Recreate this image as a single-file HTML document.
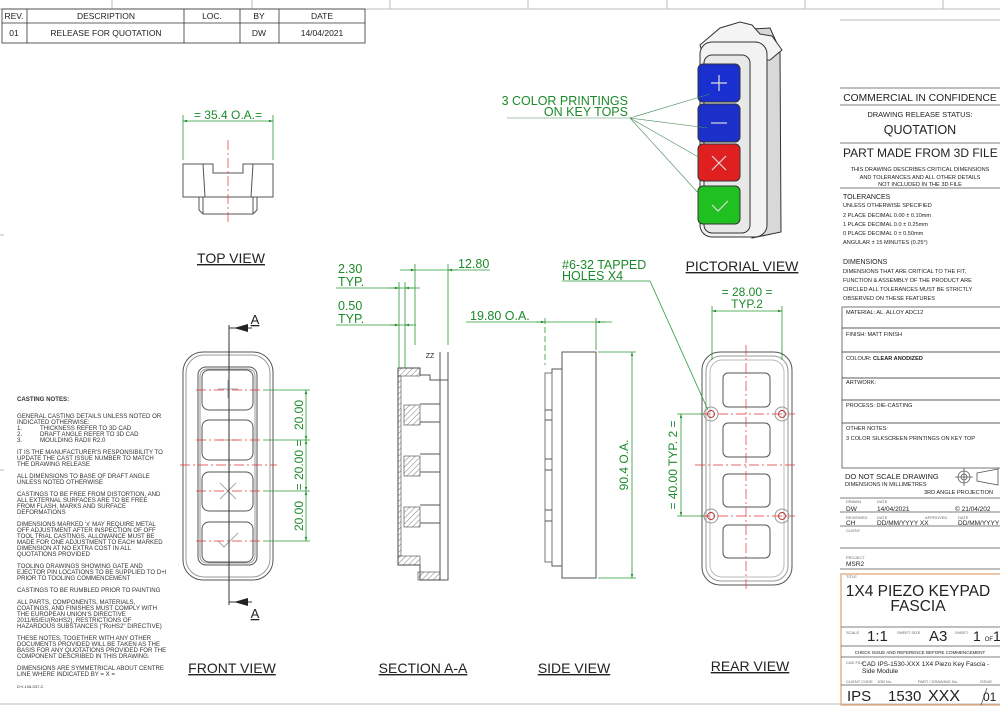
<!DOCTYPE html>
<html><head><meta charset="utf-8"><style>
html,body{margin:0;padding:0;background:#fff}
svg{display:block;font-family:"Liberation Sans",Arial,sans-serif}
.g{fill:#1c8a2a}
.gl{stroke:#2a9a35;stroke-width:0.8;fill:none}
.k{stroke:#555;stroke-width:1;fill:none}
.r{stroke:#e03030;stroke-width:0.7;fill:none;stroke-dasharray:10 3 2 3}
.t{fill:#222}
.n{font-size:6.1px;fill:#333}
.u{text-decoration:underline}
</style></head><body>
<svg width="1000" height="710" viewBox="0 0 1000 710" xmlns="http://www.w3.org/2000/svg">
<defs>
<marker id="a" viewBox="0 0 10 10" refX="10" refY="5" markerWidth="7" markerHeight="5" orient="auto-start-reverse"><path d="M0,2 L10,5 L0,8z" fill="#1c8a2a"/></marker>
<pattern id="h" width="4" height="4" patternUnits="userSpaceOnUse" patternTransform="rotate(45)"><line x1="0" y1="0" x2="0" y2="4" stroke="#444" stroke-width="0.7"/></pattern>
</defs>
<g stroke="#bbb" stroke-width="1">
<line x1="0" y1="9" x2="1000" y2="9"/>
<line x1="112" y1="0" x2="112" y2="9"/><line x1="252" y1="0" x2="252" y2="9"/><line x1="390" y1="0" x2="390" y2="9"/><line x1="528" y1="0" x2="528" y2="9"/><line x1="667" y1="0" x2="667" y2="9"/><line x1="805" y1="0" x2="805" y2="9"/><line x1="943" y1="0" x2="943" y2="9"/>
<line x1="0" y1="704" x2="1000" y2="704"/>
<line x1="840" y1="20" x2="1000" y2="20"/>
<line x1="0" y1="235" x2="4" y2="235"/><line x1="0" y1="470" x2="4" y2="470"/>
</g>
<g stroke="#333" stroke-width="0.8" fill="none">
<rect x="2" y="9" width="363" height="34"/>
<line x1="2" y1="23" x2="365" y2="23"/>
<line x1="27" y1="9" x2="27" y2="43"/><line x1="184" y1="9" x2="184" y2="43"/><line x1="240" y1="9" x2="240" y2="43"/><line x1="279" y1="9" x2="279" y2="43"/>
</g>
<g font-size="8.5" class="t" text-anchor="middle">
<text x="14" y="19">REV.</text><text x="106" y="19">DESCRIPTION</text><text x="212" y="19">LOC.</text><text x="259" y="19">BY</text><text x="322" y="19">DATE</text>
<text x="14" y="36">01</text><text x="106" y="36">RELEASE FOR QUOTATION</text><text x="259" y="36">DW</text><text x="322" y="36">14/04/2021</text>
</g>

<!-- TOP VIEW -->
<g class="k">
<path d="M183,164 L213,164 L213,173 L243,173 L243,164 L273,164 L273,197 L183,197 Z"/>
<line x1="203" y1="164" x2="205" y2="197"/><line x1="253" y1="164" x2="251" y2="197"/>
<path d="M199,197 L199,210 L203,214 L253,214 L257,210 L257,197"/>
<line x1="203" y1="197" x2="203" y2="214"/><line x1="253" y1="197" x2="253" y2="214"/>
</g>
<line class="r" x1="228" y1="140" x2="228" y2="222"/>
<line class="gl" x1="183" y1="160" x2="183" y2="115"/><line class="gl" x1="273" y1="160" x2="273" y2="115"/>
<line class="gl" x1="183" y1="121" x2="273" y2="121" marker-start="url(#a)" marker-end="url(#a)"/>
<text x="228" y="119" font-size="12" class="g" text-anchor="middle">= 35.4 O.A.=</text>
<text x="231" y="263" font-size="14" class="t u" text-anchor="middle">TOP VIEW</text>

<!-- FRONT VIEW -->
<g class="k">
<rect x="183" y="352" width="90" height="228" rx="20"/>
<rect x="186" y="355" width="84" height="222" rx="18" stroke="#999"/>
<rect x="198" y="367" width="59" height="198" rx="8"/>
<rect x="200" y="369" width="55" height="194" rx="7" stroke="#999"/>
<rect x="202" y="370" width="51" height="40" rx="7"/>
<rect x="202" y="420" width="51" height="40" rx="7"/>
<rect x="202" y="472" width="51" height="39" rx="7"/>
<rect x="202" y="522" width="51" height="40" rx="7"/>
<path d="M228,380 V398 M218,389 H238" stroke="#aaa"/>
<path d="M218,440 H238" stroke="#aaa"/>
<path d="M220,483 L236,499 M236,483 L220,499" stroke="#aaa"/>
<path d="M218,541 L224,547 L238,533" stroke="#aaa"/>
<line x1="229" y1="325" x2="229" y2="605" stroke="#333"/>
</g>
<path d="M229,328 H252 M229,602 H252" stroke="#333"/>
<path d="M248,324 L234,328 L248,332Z M248,598 L234,602 L248,606Z" fill="#222"/>
<text x="255" y="324" font-size="13" class="t u" text-anchor="middle">A</text>
<text x="255" y="618" font-size="13" class="t u" text-anchor="middle">A</text>
<g class="r"><line x1="196" y1="390" x2="260" y2="390"/><line x1="196" y1="440" x2="260" y2="440"/><line x1="180" y1="465" x2="277" y2="465"/><line x1="196" y1="491" x2="260" y2="491"/><line x1="196" y1="541" x2="260" y2="541"/></g>
<g class="gl"><line x1="263" y1="390" x2="310" y2="390"/><line x1="263" y1="440" x2="310" y2="440"/><line x1="263" y1="491" x2="310" y2="491"/><line x1="263" y1="541" x2="310" y2="541"/>
<line x1="306" y1="390" x2="306" y2="440" marker-start="url(#a)" marker-end="url(#a)"/><line x1="306" y1="440" x2="306" y2="491" marker-start="url(#a)" marker-end="url(#a)"/><line x1="306" y1="491" x2="306" y2="541" marker-start="url(#a)" marker-end="url(#a)"/></g>
<g font-size="12" class="g" text-anchor="middle">
<text transform="translate(303,415) rotate(-90)">20.00</text>
<text transform="translate(303,465) rotate(-90)">= 20.00 =</text>
<text transform="translate(303,516) rotate(-90)">20.00</text>
</g>
<text x="232" y="673" font-size="14" class="t u" text-anchor="middle">FRONT VIEW</text>

<!-- SECTION A-A -->
<g class="k" stroke-width="0.9">
<path d="M398,368 L420,368 L420,375 L430,375 L430,380 L448,380 L448,580 L420,580 L420,565 L398,565 Z"/>
<line x1="440" y1="352" x2="440" y2="580"/><line x1="448" y1="352" x2="448" y2="380"/>
<line x1="420" y1="404" x2="440" y2="404"/><line x1="420" y1="422" x2="440" y2="422"/>
<line x1="420" y1="454" x2="440" y2="454"/><line x1="420" y1="472" x2="440" y2="472"/>
<line x1="420" y1="505" x2="440" y2="505"/><line x1="420" y1="523" x2="440" y2="523"/>
</g>
<g fill="url(#h)" stroke="#444" stroke-width="0.6">
<rect x="398" y="368" width="22" height="8"/>
<rect x="404" y="405" width="16" height="20"/>
<rect x="404" y="456" width="16" height="20"/>
<rect x="404" y="507" width="16" height="20"/>
<rect x="398" y="556" width="22" height="9"/>
<rect x="418" y="572" width="22" height="8"/>
<rect x="398" y="376" width="3" height="180"/>
</g>
<text x="430" y="358" font-size="7" class="t" text-anchor="middle">ZZ</text>
<g class="gl">
<line x1="399" y1="282" x2="399" y2="368"/><line x1="405" y1="282" x2="405" y2="368"/><line x1="415" y1="264" x2="415" y2="345"/><line x1="448" y1="264" x2="448" y2="345"/>
<line x1="336" y1="288" x2="420" y2="288"/><line x1="336" y1="325" x2="416" y2="325"/>
<line x1="400" y1="270" x2="490" y2="270"/>
<line x1="410" y1="270" x2="415" y2="270" marker-end="url(#a)"/><line x1="458" y1="270" x2="448" y2="270" marker-end="url(#a)"/>
<line x1="390" y1="288" x2="399" y2="288" marker-end="url(#a)"/><line x1="415" y1="288" x2="405" y2="288" marker-end="url(#a)"/>
<line x1="390" y1="325" x2="399" y2="325" marker-end="url(#a)"/><line x1="412" y1="325" x2="405" y2="325" marker-end="url(#a)"/>
</g>
<g font-size="12.5" class="g">
<text x="338" y="273">2.30</text><text x="338" y="286">TYP.</text>
<text x="338" y="310">0.50</text><text x="338" y="323">TYP.</text>
<text x="458" y="268">12.80</text>
<text x="470" y="320">19.80 O.A.</text>
</g>
<text x="423" y="673" font-size="14" class="t u" text-anchor="middle">SECTION A-A</text>

<!-- SIDE VIEW -->
<g class="k" stroke-width="0.9">
<path d="M562,352 L596,352 L596,578 L562,578 Z"/>
<path d="M552,369 L562,369 L562,566 L552,566 Z"/>
<path d="M545,373 L552,373 L552,562 L545,562 Z" stroke="#777"/>
<line x1="545" y1="410" x2="552" y2="410"/><line x1="545" y1="420" x2="552" y2="420"/>
<line x1="545" y1="459" x2="552" y2="459"/><line x1="545" y1="470" x2="552" y2="470"/>
<line x1="545" y1="510" x2="552" y2="510"/><line x1="545" y1="521" x2="552" y2="521"/>
</g>
<g class="gl">
<line x1="466" y1="322" x2="612" y2="322"/>
<line x1="536" y1="322" x2="545" y2="322" marker-end="url(#a)"/><line x1="606" y1="322" x2="596" y2="322" marker-end="url(#a)"/>
<line x1="545" y1="318" x2="545" y2="365" stroke-dasharray="6 3"/><line x1="596" y1="318" x2="596" y2="350"/>
<line x1="598" y1="352" x2="636" y2="352"/><line x1="598" y1="578" x2="636" y2="578"/>
<line x1="632" y1="352" x2="632" y2="578" marker-start="url(#a)" marker-end="url(#a)"/>
</g>
<text transform="translate(628,465) rotate(-90)" font-size="12" class="g" text-anchor="middle">90.4 O.A.</text>
<text x="574" y="673" font-size="14" class="t u" text-anchor="middle">SIDE VIEW</text>

<!-- REAR VIEW -->
<g class="k">
<rect x="702" y="352" width="90" height="233" rx="18"/>
<rect x="706" y="356" width="82" height="225" rx="15" stroke="#999"/>
<rect x="710" y="360" width="74" height="217" rx="12" stroke="#bbb"/>
<rect x="723" y="373" width="47" height="34" rx="5"/>
<rect x="723" y="423" width="47" height="34" rx="5"/>
<rect x="723" y="474" width="47" height="33" rx="5"/>
<rect x="723" y="525" width="47" height="33" rx="5"/>
<circle cx="711" cy="414" r="7" stroke="#999"/><circle cx="782" cy="414" r="7" stroke="#999"/>
<circle cx="711" cy="516" r="7" stroke="#999"/><circle cx="782" cy="516" r="7" stroke="#999"/>
</g>
<g stroke="#b03030" stroke-width="0.9" fill="none">
<circle cx="711" cy="414" r="3.5"/><circle cx="782" cy="414" r="3.5"/><circle cx="711" cy="516" r="3.5"/><circle cx="782" cy="516" r="3.5"/>
</g>
<g class="r"><line x1="746" y1="345" x2="746" y2="592"/><line x1="695" y1="465" x2="798" y2="465"/><line x1="700" y1="414" x2="795" y2="414"/><line x1="700" y1="516" x2="795" y2="516"/></g>
<g class="gl">
<line x1="712" y1="306" x2="712" y2="360"/><line x1="782" y1="306" x2="782" y2="360"/>
<line x1="712" y1="311" x2="782" y2="311" marker-start="url(#a)" marker-end="url(#a)"/>
<line x1="677" y1="414" x2="704" y2="414"/><line x1="677" y1="516" x2="704" y2="516"/>
<line x1="681" y1="414" x2="681" y2="516" marker-start="url(#a)" marker-end="url(#a)"/>
<polyline points="562,281 650,281 708,410"/>
</g>
<text x="747" y="296" font-size="12" class="g" text-anchor="middle">= 28.00 =</text>
<text x="747" y="308" font-size="12" class="g" text-anchor="middle">TYP.2</text>
<text transform="translate(677,465) rotate(-90)" font-size="12" class="g" text-anchor="middle">= 40.00 TYP. 2 =</text>
<text x="562" y="269" font-size="12.5" class="g">#6-32 TAPPED</text>
<text x="562" y="280" font-size="12.5" class="g">HOLES X4</text>
<text x="750" y="671" font-size="14" class="t u" text-anchor="middle">REAR VIEW</text>

<!-- PICTORIAL -->
<g stroke="#333" stroke-width="1">
<path d="M735,30 L770,28 L780,50 L781,232 L752,238 Z" fill="#d8d8d8"/>
<path d="M700,45 L720,28 L740,22 L752,25 L760,34 L772,36 L782,50 L770,60 L705,62 Z" fill="#f4f4f4"/>
<rect x="700" y="42" width="67" height="195" rx="12" fill="#f2f2f2"/>
<rect x="704" y="55" width="46" height="178" rx="8" fill="#e8e8e8"/>
<rect x="698" y="64" width="42" height="38" rx="5" fill="#1a2fd0"/>
<rect x="698" y="104" width="42" height="38" rx="5" fill="#1a30c8"/>
<rect x="698" y="144" width="42" height="37" rx="5" fill="#e02020"/>
<rect x="698" y="186" width="42" height="38" rx="5" fill="#20c020"/>
</g>
<g stroke="#ddd" stroke-width="1.2" fill="none">
<path d="M719,75 V91 M711,83 H727"/><path d="M711,123 H727"/><path d="M712,156 L726,170 M726,156 L712,170"/><path d="M712,205 L718,211 L728,201"/>
</g>
<g stroke="#4a8a5a" stroke-width="0.6" fill="none">
<line x1="507" y1="118" x2="630" y2="118"/>
<line x1="630" y1="118" x2="710" y2="94"/><line x1="630" y1="118" x2="708" y2="128"/><line x1="630" y1="118" x2="700" y2="158"/><line x1="630" y1="118" x2="700" y2="195"/>
</g>
<text x="628" y="105" font-size="12.5" class="g" text-anchor="end">3 COLOR PRINTINGS</text>
<text x="628" y="116" font-size="12.5" class="g" text-anchor="end">ON KEY TOPS</text>
<text x="742" y="271" font-size="14" class="t u" text-anchor="middle">PICTORIAL VIEW</text>

<!-- CASTING NOTES -->
<g class="n">
<text x="17" y="401" font-weight="bold">CASTING NOTES:</text>
<text x="17" y="418">GENERAL CASTING DETAILS UNLESS NOTED OR</text>
<text x="17" y="424">INDICATED OTHERWISE:</text>
<text x="17" y="430">1.</text><text x="40" y="430">THICKNESS REFER TO 3D CAD</text>
<text x="17" y="436">2.</text><text x="40" y="436">DRAFT ANGLE REFER TO 3D CAD</text>
<text x="17" y="442">3.</text><text x="40" y="442">MOULDING RADII R2.0</text>
<text x="17" y="454">IT IS THE MANUFACTURER'S RESPONSIBILITY TO</text>
<text x="17" y="460">UPDATE THE CAST ISSUE NUMBER TO MATCH</text>
<text x="17" y="466">THE DRAWING RELEASE</text>
<text x="17" y="478">ALL DIMENSIONS TO BASE OF DRAFT ANGLE</text>
<text x="17" y="484">UNLESS NOTED OTHERWISE</text>
<text x="17" y="496">CASTINGS TO BE FREE FROM DISTORTION, AND</text>
<text x="17" y="502">ALL EXTERNAL SURFACES ARE TO BE FREE</text>
<text x="17" y="508">FROM FLASH, MARKS AND SURFACE</text>
<text x="17" y="514">DEFORMATIONS</text>
<text x="17" y="526">DIMENSIONS MARKED 'x' MAY REQUIRE METAL</text>
<text x="17" y="532">OFF ADJUSTMENT AFTER INSPECTION OF OFF</text>
<text x="17" y="538">TOOL TRIAL CASTINGS.  ALLOWANCE MUST BE</text>
<text x="17" y="544">MADE FOR ONE ADJUSTMENT TO EACH MARKED</text>
<text x="17" y="550">DIMENSION AT NO EXTRA COST IN ALL</text>
<text x="17" y="556">QUOTATIONS PROVIDED</text>
<text x="17" y="568">TOOLING DRAWINGS SHOWING GATE AND</text>
<text x="17" y="574">EJECTOR PIN LOCATIONS TO BE SUPPLIED TO D+I</text>
<text x="17" y="580">PRIOR TO TOOLING COMMENCEMENT</text>
<text x="17" y="592">CASTINGS TO BE RUMBLED PRIOR TO PAINTING</text>
<text x="17" y="604">ALL PARTS, COMPONENTS, MATERIALS,</text>
<text x="17" y="610">COATINGS, AND FINISHES MUST COMPLY WITH</text>
<text x="17" y="616">THE EUROPEAN UNION'S DIRECTIVE</text>
<text x="17" y="622">2011/65/EU(RoHS2), RESTRICTIONS OF</text>
<text x="17" y="628">HAZARDOUS SUBSTANCES ("RoHS2" DIRECTIVE)</text>
<text x="17" y="640">THESE NOTES, TOGETHER WITH ANY OTHER</text>
<text x="17" y="646">DOCUMENTS PROVIDED WILL BE TAKEN AS THE</text>
<text x="17" y="652">BASIS FOR ANY QUOTATIONS PROVIDED FOR THE</text>
<text x="17" y="658">COMPONENT DESCRIBED IN THIS DRAWING.</text>
<text x="17" y="670">DIMENSIONS ARE SYMMETRICAL ABOUT CENTRE</text>
<text x="17" y="676">LINE WHERE INDICATED BY = X =</text>
<text x="17" y="688" font-size="4">D+I-106-037-C</text>
</g>

<!-- TITLE BLOCK -->
<g stroke="#555" stroke-width="0.8" fill="none">
<line x1="840" y1="88" x2="1000" y2="88"/>
<line x1="840" y1="105" x2="1000" y2="105"/>
<line x1="840" y1="143" x2="1000" y2="143"/>
<line x1="840" y1="188" x2="1000" y2="188"/>
<rect x="842" y="307" width="160" height="21"/>
<rect x="842" y="328" width="160" height="24"/>
<rect x="842" y="352" width="160" height="26"/>
<rect x="842" y="378" width="160" height="22"/>
<rect x="842" y="400" width="160" height="23"/>
<rect x="842" y="423" width="160" height="45"/>
<line x1="840" y1="498" x2="1000" y2="498"/>
<line x1="840" y1="512" x2="1000" y2="512"/>
<line x1="840" y1="526" x2="1000" y2="526"/>
<line x1="840" y1="548" x2="1000" y2="548"/>
<line x1="840" y1="569" x2="1000" y2="569"/>
<rect x="841" y="574" width="160" height="131" stroke="#e0a070" stroke-width="1.2"/>
<line x1="841" y1="627" x2="1000" y2="627"/>
<line x1="841" y1="646" x2="1000" y2="646"/>
<line x1="841" y1="657" x2="1000" y2="657"/>
<line x1="841" y1="685" x2="1000" y2="685"/>
<circle cx="964" cy="477" r="6"/><circle cx="964" cy="477" r="3"/><line x1="955" y1="477" x2="973" y2="477"/><line x1="964" y1="468" x2="964" y2="486"/>
<path d="M977,473 L998,469 L998,485 L977,481 Z"/>
<path d="M981,705 L987,688"/>
</g>
<g class="t">
<text x="920" y="101" font-size="10.3" text-anchor="middle">COMMERCIAL IN CONFIDENCE</text>
<text x="920" y="117" font-size="7.5" text-anchor="middle">DRAWING RELEASE STATUS:</text>
<text x="920" y="134" font-size="12.5" text-anchor="middle">QUOTATION</text>
<text x="843" y="157" font-size="12">PART MADE FROM 3D FILE</text>
<g font-size="5.6" text-anchor="middle"><text x="920" y="171">THIS DRAWING DESCRIBES CRITICAL DIMENSIONS</text><text x="920" y="179">AND TOLERANCES AND ALL OTHER DETAILS</text><text x="920" y="186">NOT INCLUDED IN THE 3D FILE</text></g>
<text x="843" y="199" font-size="7">TOLERANCES</text>
<g font-size="5.6"><text x="843" y="207">UNLESS OTHERWISE SPECIFIED</text>
<text x="843" y="217">2 PLACE DECIMAL 0.00 ± 0.10mm</text>
<text x="843" y="226">1 PLACE DECIMAL 0.0   ± 0.25mm</text>
<text x="843" y="235">0 PLACE DECIMAL 0      ± 0.50mm</text>
<text x="843" y="244">ANGULAR ± 15 MINUTES (0.25°)</text></g>
<text x="843" y="264" font-size="7">DIMENSIONS</text>
<g font-size="5.6"><text x="843" y="273">DIMENSIONS THAT ARE CRITICAL TO THE FIT,</text>
<text x="843" y="282">FUNCTION &amp; ASSEMBLY OF THE PRODUCT ARE</text>
<text x="843" y="291">CIRCLED  ALL TOLERANCES MUST BE STRICTLY</text>
<text x="843" y="300">OBSERVED ON THESE FEATURES</text>
<text x="846" y="314">MATERIAL: AL. ALLOY ADC12</text>
<text x="846" y="336">FINISH:    MATT FINISH</text>
<text x="846" y="360">COLOUR:  <tspan font-weight="bold">CLEAR ANODIZED</tspan></text>
<text x="846" y="384">ARTWORK:</text>
<text x="846" y="407">PROCESS:  DIE-CASTING</text>
<text x="846" y="430">OTHER NOTES:</text>
<text x="846" y="440">3 COLOR SILKSCREEN PRINTINGS ON KEY TOP</text></g>
<text x="845" y="479" font-size="7.5">DO NOT SCALE DRAWING</text>
<text x="845" y="486" font-size="5.6">DIMENSIONS IN MILLIMETRES</text>
<text x="924" y="494" font-size="5.6">3RD ANGLE PROJECTION</text>
<g font-size="4" fill="#666"><text x="846" y="503">DRAWN</text><text x="877" y="503">DATE</text><text x="846" y="519">REVIEWED</text><text x="877" y="519">DATE</text><text x="925" y="519">APPROVED</text><text x="958" y="519">DATE</text><text x="846" y="532">CLIENT</text><text x="846" y="559">PROJECT</text><text x="846" y="578">TITLE</text>
<text x="846" y="634">SCALE</text><text x="897" y="634">SHEET SIZE</text><text x="955" y="634">SHEET</text><text x="846" y="664">CAD FILE</text><text x="846" y="683">CLIENT CODE</text><text x="877" y="683">JOB No.</text><text x="918" y="683">PART / DRAWING No.</text><text x="980" y="683">ISSUE</text></g>
<g font-size="6.5"><text x="846" y="511">DW</text><text x="877" y="511">14/04/2021</text><text x="955" y="511">© 21/04/202</text><text x="846" y="525">CH</text><text x="877" y="525">DD/MM/YYYY  XX</text><text x="958" y="525">DD/MM/YYYY</text><text x="846" y="566">MSR2</text></g>
<text x="918" y="596" font-size="15.5" text-anchor="middle">1X4 PIEZO KEYPAD</text>
<text x="918" y="611" font-size="15.5" text-anchor="middle">FASCIA</text>
<text x="867" y="641" font-size="15">1:1</text><text x="929" y="641" font-size="15">A3</text><text x="973" y="641" font-size="14">1 <tspan font-size="6">OF</tspan>1</text>
<text x="920" y="654" font-size="4.5" text-anchor="middle">CHECK ISSUE AND REFERENCE BEFORE COMMENCEMENT</text>
<text x="862" y="666" font-size="6.5">CAD IPS-1530-XXX 1X4 Piezo Key Fascia -</text>
<text x="862" y="673" font-size="6.5">Side Module</text>
<text x="847" y="701" font-size="15">IPS</text><text x="888" y="701" font-size="15">1530</text><text x="928" y="701" font-size="16">XXX</text><text x="983" y="701" font-size="12">01</text>
</g>
</svg>
</body></html>
